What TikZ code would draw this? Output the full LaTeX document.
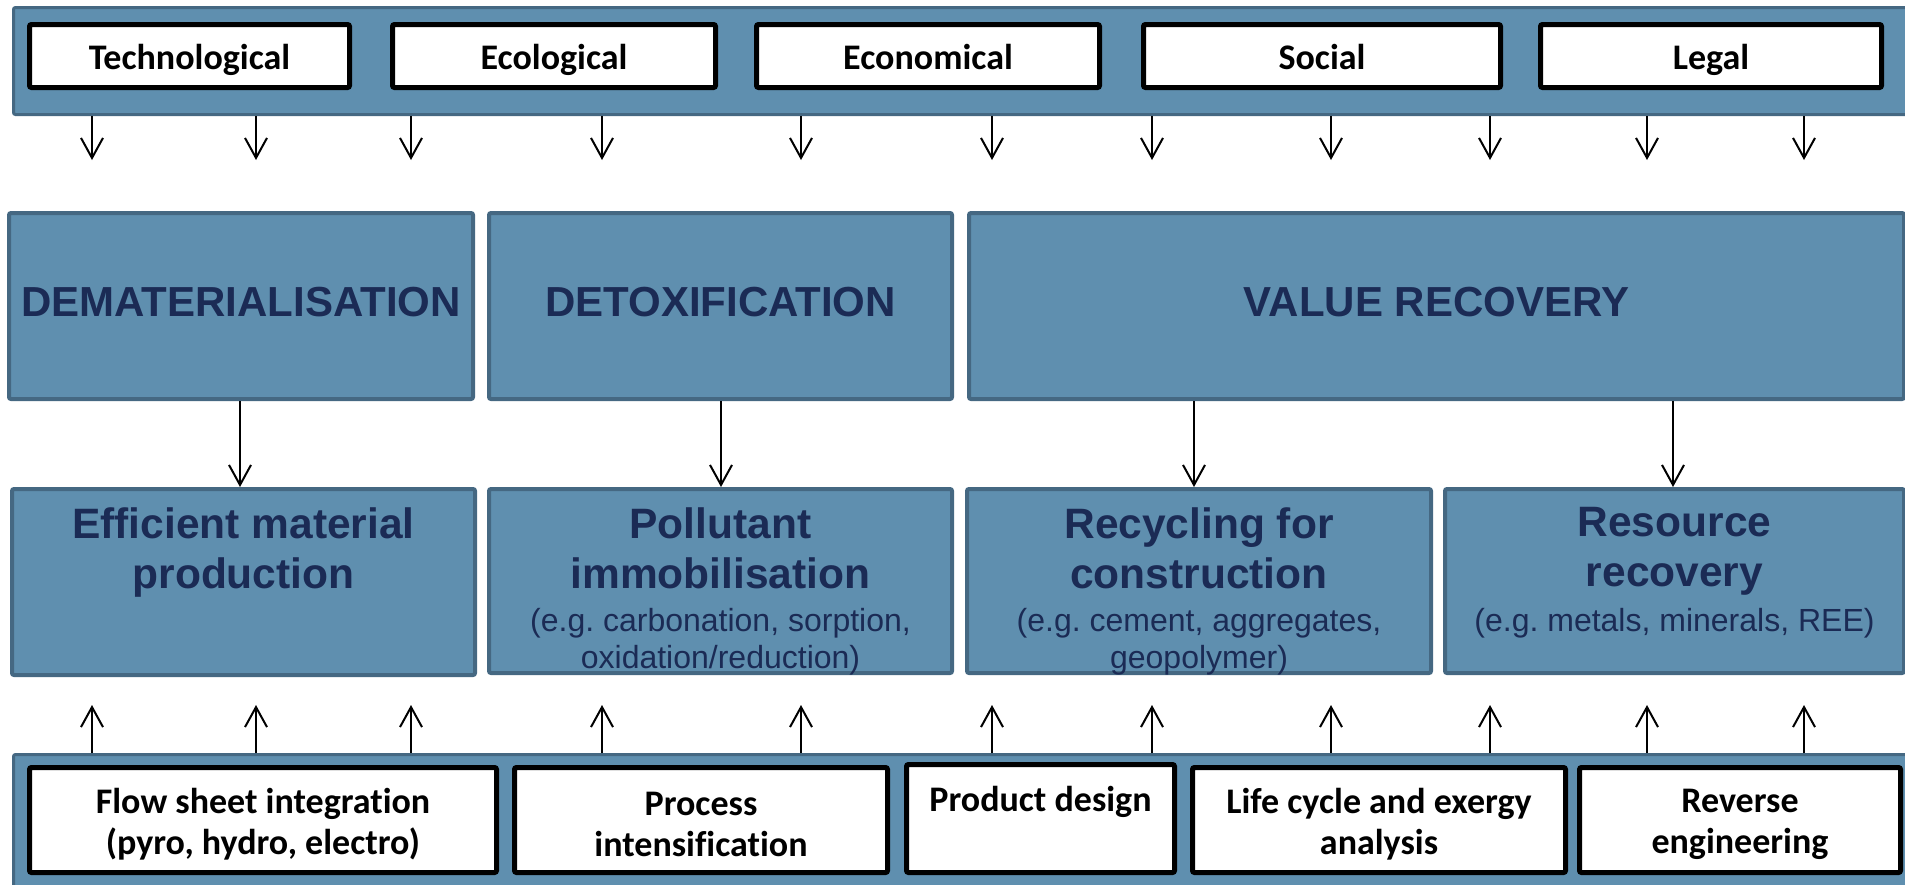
\documentclass[tikz,border=0pt]{standalone}
\usepackage{fontspec}
\setmainfont{Liberation Sans}
\newfontfamily\calfont{Carlito}[Ligatures=NoCommon]
\usetikzlibrary{arrows.meta}
\definecolor{bfill}{HTML}{5F8FAF}
\definecolor{bline}{HTML}{456882}
\definecolor{navy}{HTML}{1B2B55}
\frenchspacing
\begin{document}
\begin{tikzpicture}[x=1pt,y=-1pt,
 band/.style={draw=bline, fill=bfill, line width=3pt, rounded corners=2pt, inner sep=0pt},
 wbox/.style={draw=black, fill=white, line width=5pt, rounded corners=2pt, inner sep=0pt},
 wtext/.style={inner sep=0pt, align=center, font=\calfont\bfseries\fontsize{36}{41}\selectfont},
 bbox/.style={draw=bline, fill=bfill, line width=4pt, rounded corners=2pt, inner sep=0pt, text=navy, font=\bfseries\fontsize{42}{50}\selectfont, text depth=8pt},
 title/.style={text=navy, font=\bfseries\fontsize{42.5}{50}\selectfont, align=center, inner sep=0pt, anchor=north},
 sub/.style={text=navy, font=\fontsize{32}{37}\selectfont, align=center, inner sep=0pt, anchor=north},
 arr/.style={-{Straight Barb[length=20pt,width=22pt]}, line width=2pt}
]
\useasboundingbox (0,0) rectangle (1905,884);

% top band
\node[band, minimum width=1895pt, minimum height=107pt] (topband) at (961,61) {};
\node[wbox, minimum width=320pt, minimum height=63pt] (tech) at (189.5,56) {};
\node[wbox, minimum width=323pt, minimum height=63pt] (eco) at (554,56) {};
\node[wbox, minimum width=343pt, minimum height=63pt] (econ) at (928,56) {};
\node[wbox, minimum width=357pt, minimum height=63pt] (soc) at (1322,56) {};
\node[wbox, minimum width=341pt, minimum height=63pt] (legal) at (1711,56) {};
\node[wtext, anchor=base] (techt) at (189.5,69) {Technological};
\node[wtext, anchor=base] (ecot) at (554,69) {Ecological};
\node[wtext, anchor=base] (econt) at (928,69) {Economical};
\node[wtext, anchor=base] (soct) at (1322,69) {Social};
\node[wtext, anchor=base] (legalt) at (1711,69) {Legal};

% bottom band
\node[band, minimum width=1895pt, minimum height=139pt] (botband) at (961,824) {};
\node[wbox, minimum width=467pt, minimum height=105pt] (flow) at (263,820) {};
\node[wbox, minimum width=373pt, minimum height=105pt] (proc) at (701,820) {};
\node[wbox, minimum width=268pt, minimum height=108pt] (prod) at (1040.5,818.5) {};
\node[wbox, minimum width=373pt, minimum height=105pt] (life) at (1379,820) {};
\node[wbox, minimum width=321pt, minimum height=105pt] (rev) at (1740,820) {};
\node[wtext] (flowt) at (263,824) {Flow sheet integration\\(pyro, hydro, electro)};
\node[wtext] (proct) at (701,824) {Process\\intensification};
\node[wtext] (prodt) at (1040.5,822.5) {Product design\\\phantom{g}};
\node[wtext] (lifet) at (1379,824.5) {Life cycle and exergy\\analysis};
\node[wtext] (revt) at (1740,824.5) {Reverse\\engineering};

% row 1
\node[bbox, minimum width=464pt, minimum height=186pt] (demat) at (241,306) {DEMATERIALISATION};
\node[bbox, minimum width=463pt, minimum height=186pt] (detox) at (720.5,306) {DETOXIFICATION};
\node[bbox, minimum width=935pt, minimum height=186pt] (value) at (1436.5,306) {VALUE RECOVERY};

% row 2
\node[bbox, minimum width=463pt, minimum height=186pt] (eff) at (243.5,582) {};
\node[bbox, minimum width=463pt, minimum height=184pt] (pol) at (720.5,581) {};
\node[bbox, minimum width=464pt, minimum height=184pt] (rec) at (1199,581) {};
\node[bbox, minimum width=459pt, minimum height=184pt] (res) at (1674.5,581) {};

\node[title] (efft) at (243.5,507) {Efficient material\\production};
\node[title] (polt) at (720.5,507) {Pollutant\\immobilisation};
\node[sub] (pols) at (720.5,608) {(e.g. carbonation, sorption,\\oxidation/reduction)};
\node[title] (rect) at (1199,507) {Recycling for\\construction};
\node[sub] (recs) at (1199,608) {(e.g. cement, aggregates,\\geopolymer)};
\node[title] (rest) at (1674.5,507) {Resource\\recovery};
\node[sub] (ress) at (1674.5,608) {(e.g. metals, minerals, REE)};

% arrow coordinates
\foreach \i/\x in {1/92,2/256,3/411,4/602,5/801,6/992,7/1152,8/1331,9/1490,10/1647,11/1804}{
  \coordinate (t\i) at (\x,160);
  \coordinate (b\i) at (\x,705);
  \draw[arr] (topband.south -| t\i) -- (t\i);
  \draw[arr] (botband.north -| b\i) -- (b\i);
}

% middle arrows
\coordinate (a1) at (240,487);
\coordinate (a2) at (721,487);
\coordinate (a3) at (1194,487);
\coordinate (a4) at (1673,487);
\draw[arr] (demat.south -| a1) -- (a1);
\draw[arr] (detox.south -| a2) -- (a2);
\draw[arr] (value.south -| a3) -- (a3);
\draw[arr] (value.south -| a4) -- (a4);
\end{tikzpicture}
\end{document}
